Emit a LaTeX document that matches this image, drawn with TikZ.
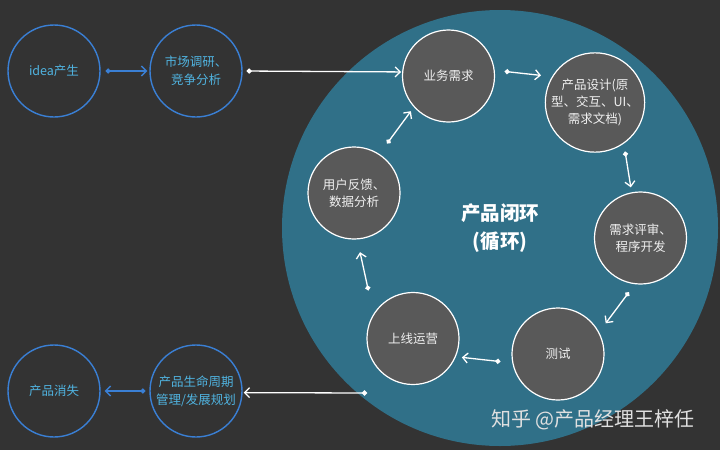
\documentclass[tikz,border=0pt]{standalone}
\usepackage{fontspec}
\setmainfont{Noto Sans CJK SC}
\usepackage{tikz}
\usepackage{xcolor}
\usetikzlibrary{arrows.meta, positioning, calc}

\definecolor{bgdark}{RGB}{51,51,51}
\definecolor{loopteal}{RGB}{48,112,136}
\definecolor{stepgray}{RGB}{89,89,89}
\definecolor{lineblue}{RGB}{58,127,212}
\definecolor{textcyan}{RGB}{80,180,225}

\begin{document}
\begin{tikzpicture}[x=1pt, y=-1pt,
    stepnode/.style={circle, draw=white, line width=1.2pt, fill=stepgray, minimum size=92pt, inner sep=0pt, align=center, text=white!94!black, font=\fontsize{12.5}{17}\selectfont},
    ideanode/.style={circle, draw=lineblue, line width=1.4pt, minimum size=92pt, inner sep=0pt, align=center, text=textcyan, font=\fontsize{12.5}{18}\selectfont},
    loopcircle/.style={circle, fill=loopteal, minimum size=436pt, inner sep=0pt, align=center, text=white, font=\fontsize{19.5}{28}\bfseries},
    flow/.style={line width=1.3pt, white, arrows={Circle[length=5pt]-Straight Barb[length=5pt, width=10pt]}},
    blueflow/.style={flow, lineblue}]

    % Background
    \fill[bgdark] (0,0) rectangle (720,450);
    \useasboundingbox (0,0) rectangle (720,450);

    % Product loop (big circle)
    \node[loopcircle] (loop) at (500,228) {产品闭环\\(循环)};

    % Steps inside the loop
    \node[stepnode] (biz) at (448.5,76) {业务需求};
    \node[stepnode] (design) at (595,102.5) {产品设计(原\\型、交互、UI、\\需求文档)};
    \node[stepnode] (review) at (640.5,238) {需求评审、\\程序开发};
    \node[stepnode] (test) at (558,354) {测试};
    \node[stepnode] (online) at (413,338.5) {上线运营};
    \node[stepnode] (feedback) at (354,193) {用户反馈、\\数据分析};

    % Start and end of the product
    \node[ideanode] (idea) at (54,71) {idea产生};
    \node[ideanode] (market) at (196,71) {市场调研、\\竞争分析};
    \node[ideanode] (life) at (196,391) {产品生命周期\\管理/发展规划};
    \node[ideanode] (gone) at (54,391) {产品消失};
    \coordinate (exit) at (367,393);

    % Arrows
    \draw[blueflow, shorten <=5pt, shorten >=2pt] (idea) -- (market);
    \draw[flow, shorten <=4pt, shorten >=1pt] (market.0) -- (biz.175);
    \draw[flow, shorten <=10pt, shorten >=11pt] (biz.7) -- (design.149);
    \draw[flow, shorten <=8pt, shorten >=5pt] (design.-55) -- (review.101);
    \draw[flow, shorten <=10pt, shorten >=11pt] (review.263) -- (test.28);
    \draw[flow, shorten <=12pt, shorten >=6pt] (test.191) -- (online.-23);
    \draw[flow, shorten <=24pt, shorten >=13pt] (online.148) -- (feedback.-86);
    \draw[flow, shorten <=13pt, shorten >=5pt] (feedback.57) -- (biz.222);
    \draw[flow, shorten >=1pt] (exit) -- (life.-2);
    \draw[blueflow, shorten <=4pt, shorten >=4pt] (life) -- (gone);

    % Watermark
    \node[font=\fontsize{20}{24}\selectfont, text=white!88!black] (mark) at (593,420) {知乎 @产品经理王梓任};

\end{tikzpicture}
\end{document}
